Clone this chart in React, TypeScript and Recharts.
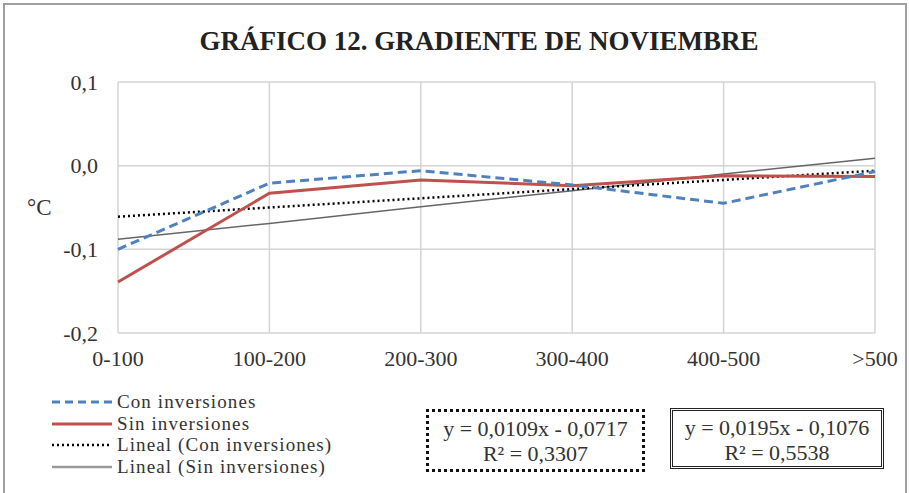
import React from "react";
import {
  LineChart,
  Line,
  XAxis,
  YAxis,
  CartesianGrid,
} from "recharts";

// tramos de altitud
const tramos = ["0-100", "100-200", "200-300", "300-400", "400-500", ">500"];
// gradiente en ºC
const conInversiones = [-0.1, -0.021, -0.006, -0.023, -0.045, -0.007];
const sinInversiones = [-0.139, -0.033, -0.017, -0.024, -0.012, -0.013];
// lineas de tendencia
const linealCon = [-0.061, -0.05, -0.039, -0.028, -0.017, -0.006];
const linealSin = [-0.088, -0.069, -0.049, -0.03, -0.01, 0.009];
const yTicks = [-0.2, -0.1, 0, 0.1];

const data = tramos.map((t, i) => ({
  tramo: t,
  con: conInversiones[i],
  sin: sinInversiones[i],
  lcon: linealCon[i],
  lsin: linealSin[i],
}));

const font =
  "'Times New Roman', Tinos, 'Liberation Serif', 'Noto Serif', 'DejaVu Serif', serif";

const legendItems = [
  { label: "Con inversiones", color: "#4f81bd", dash: "8 5", width: 3 },
  { label: "Sin inversiones", color: "#c0504d", dash: undefined, width: 3 },
  { label: "Lineal (Con inversiones)", color: "#000", dash: "2 3", width: 2.5 },
  { label: "Lineal (Sin inversiones)", color: "#999", dash: undefined, width: 2.5 },
];

function LegendBox() {
  return (
    <div
      style={{
        fontFamily: font,
        fontSize: 19,
        letterSpacing: 1.1,
        color: "#333",
        lineHeight: "21.7px",
      }}
    >
      {legendItems.map((it) => (
        <div key={it.label} style={{ display: "flex", alignItems: "center", height: 21.7 }}>
          <svg width={65} height={10}>
            <line
              x1={0}
              y1={5}
              x2={60}
              y2={5}
              stroke={it.color}
              strokeWidth={it.width}
              strokeDasharray={it.dash}
            />
          </svg>
          <span>{it.label}</span>
        </div>
      ))}
    </div>
  );
}

const fmt = (v: number) => v.toFixed(1).replace(".", ",");

const boxText: React.CSSProperties = {
  fontFamily: font,
  fontSize: 22,
  color: "#333",
  textAlign: "center",
  lineHeight: "25px",
  paddingTop: 4,
  boxSizing: "border-box",
  whiteSpace: "nowrap",
};

export default function App() {
  return (
    <div
      style={{
        position: "fixed",
        left: 0,
        top: 0,
        width: 909,
        height: 493,
        background: "#fff",
        overflow: "hidden",
      }}
    >
      <div
        style={{
          position: "absolute",
          left: 3,
          top: 3,
          width: 900,
          height: 500,
          border: "2px solid #a0a0a0",
        }}
      />
      <div
        style={{
          position: "absolute",
          left: 0,
          top: 26,
          width: 958,
          textAlign: "center",
          fontFamily: font,
          fontWeight: "bold",
          fontSize: 27,
          color: "#222",
        }}
      >
        GRÁFICO 12. GRADIENTE DE NOVIEMBRE
      </div>
      <div
        style={{
          position: "absolute",
          left: 27,
          top: 195,
          fontFamily: font,
          fontSize: 23,
          color: "#333",
        }}
      >
        °C
      </div>
      <div style={{ position: "absolute", left: 0, top: 0 }}>
        <LineChart
          width={909}
          height={493}
          data={data}
          margin={{ top: 82, right: 34, bottom: 130, left: 0 }}
        >
          <CartesianGrid stroke="#d4d4d4" strokeWidth={1.5} />
          <XAxis
            dataKey="tramo"
            axisLine={false}
            tickLine={false}
            height={30}
            tick={{ fontFamily: font, fontSize: 22, fill: "#333" }}
            tickMargin={11}
          />
          <YAxis
            width={118}
            domain={[-0.2, 0.1]}
            ticks={yTicks}
            tickFormatter={fmt}
            axisLine={false}
            tickLine={false}
            tick={{ fontFamily: font, fontSize: 22, fill: "#333" }}
            tickMargin={14}
          />
          <Line
            dataKey="lsin"
            stroke="#666"
            strokeWidth={1.5}
            dot={false}
            isAnimationActive={false}
          />
          <Line
            dataKey="lcon"
            stroke="#000"
            strokeWidth={2.5}
            strokeDasharray="2 3"
            dot={false}
            isAnimationActive={false}
          />
          <Line
            dataKey="sin"
            stroke="#c0504d"
            strokeWidth={3}
            dot={false}
            isAnimationActive={false}
          />
          <Line
            dataKey="con"
            stroke="#4f81bd"
            strokeWidth={3}
            strokeDasharray="9 5"
            dot={false}
            isAnimationActive={false}
          />
        </LineChart>
      </div>
      <div style={{ position: "absolute", left: 52, top: 391 }}>
        <LegendBox />
      </div>
      <div
        style={{
          ...boxText,
          position: "absolute",
          left: 426,
          top: 409,
          width: 219,
          height: 63,
          border: "3px dotted #111",
        }}
      >
        y = 0,0109x - 0,0717
        <br />
        R² = 0,3307
      </div>
      <div
        style={{
          ...boxText,
          position: "absolute",
          left: 670,
          top: 408,
          width: 214,
          height: 61,
          border: "3px double #222",
        }}
      >
        y = 0,0195x - 0,1076
        <br />
        R² = 0,5538
      </div>
    </div>
  );
}
